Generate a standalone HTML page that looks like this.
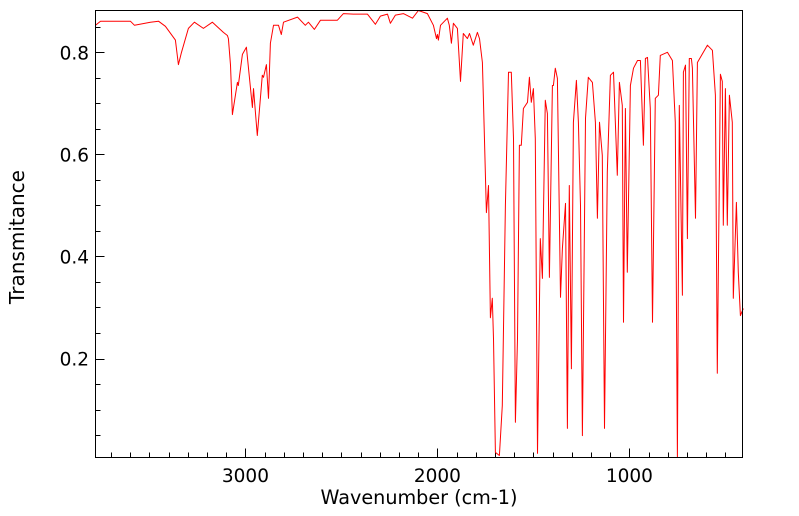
<!DOCTYPE html>
<html><head><meta charset="utf-8"><style>
html,body{margin:0;padding:0;background:#fff;}
svg{display:block;font-family:"DejaVu Sans","Liberation Sans",sans-serif;}
</style></head><body>
<svg id="chart" width="799" height="516" viewBox="0 0 799 516" xmlns="http://www.w3.org/2000/svg">
<rect x="0" y="0" width="799" height="516" fill="#fff"/>
<g id="axes"></g>
<path id="spectrum" fill="none" stroke="#ff0000" stroke-width="1" stroke-linejoin="round"/>
<rect x="95.5" y="10.5" width="647" height="447" fill="none" stroke="#000" stroke-width="1"/>
<text x="419" y="504" font-size="19.2" text-anchor="middle">Wavenumber (cm-1)</text>
<text transform="translate(24,237) rotate(-90)" font-size="20" text-anchor="middle">Transmitance</text>
</svg>
<script>
const wavenumbers=[3781,3755,3599,3578,3495,3453,3417,3365,3349,3333,3297,3266,3219,3172,3115,3094,3089,3078,3068,3042,3037,3016,2995,2964,2958,2938,2912,2906,2891,2880,2870,2854,2828,2813,2802,2729,2688,2672,2641,2609,2521,2490,2438,2365,2323,2297,2260,2245,2219,2177,2130,2099,2052,2021,2005,2000,1995,1984,1948,1938,1927,1917,1896,1880,1865,1844,1833,1813,1792,1781,1766,1761,1745,1734,1724,1714,1708,1698,1677,1662,1646,1630,1615,1604,1594,1583,1573,1563,1552,1531,1521,1511,1500,1490,1479,1464,1453,1438,1427,1417,1401,1396,1386,1375,1359,1349,1333,1323,1313,1302,1292,1276,1266,1255,1245,1229,1214,1193,1177,1167,1156,1141,1130,1115,1099,1083,1063,1052,1037,1031,1021,1011,995,979,958,943,927,917,906,891,880,865,849,839,802,776,761,750,740,724,719,708,698,688,677,672,656,646,594,568,552,542,526,516,511,500,490,479,464,459,443,433,422,407];
const transmittance=[0.853,0.861,0.861,0.853,0.859,0.861,0.851,0.824,0.776,0.8,0.847,0.859,0.847,0.859,0.839,0.833,0.827,0.775,0.678,0.741,0.735,0.796,0.810,0.692,0.729,0.637,0.755,0.751,0.776,0.710,0.818,0.853,0.853,0.835,0.859,0.869,0.853,0.859,0.845,0.863,0.863,0.876,0.875,0.875,0.855,0.871,0.875,0.857,0.873,0.876,0.867,0.882,0.876,0.853,0.827,0.835,0.824,0.853,0.867,0.853,0.818,0.857,0.847,0.743,0.837,0.827,0.837,0.814,0.839,0.827,0.780,0.716,0.486,0.539,0.280,0.318,0.239,0.016,0.010,0.108,0.5,0.761,0.761,0.631,0.075,0.239,0.618,0.618,0.690,0.702,0.751,0.702,0.729,0.631,0.014,0.435,0.357,0.706,0.680,0.359,0.735,0.735,0.769,0.749,0.320,0.416,0.504,0.063,0.539,0.180,0.663,0.745,0.663,0.5,0.049,0.671,0.751,0.741,0.663,0.475,0.663,0.598,0.063,0.565,0.755,0.761,0.559,0.741,0.696,0.271,0.690,0.369,0.735,0.769,0.784,0.784,0.618,0.788,0.790,0.690,0.271,0.710,0.716,0.794,0.8,0.784,0.663,0.006,0.696,0.324,0.761,0.775,0.435,0.788,0.788,0.769,0.475,0.780,0.814,0.804,0.716,0.171,0.757,0.743,0.461,0.729,0.461,0.716,0.663,0.318,0.506,0.369,0.284,0.298];
const xTickLabels=[3000,2000,1000];
const yTickLabels=[0.2,0.4,0.6,0.8];

const X0=95.5,X1=742.5,Y0=457.5,Y1=10.5;
const WMAX=3781,WMIN=411,TMIN=0.006,TMAX=0.882;
function xs(w){return X0+(WMAX-w)/(WMAX-WMIN)*(X1-X0);}
function ys(t){return Y0-(t-TMIN)/(TMAX-TMIN)*(Y0-Y1);}

const NS="http://www.w3.org/2000/svg";
const axes=document.getElementById('axes');
function mk(tag,attrs){const e=document.createElementNS(NS,tag);for(const k in attrs)e.setAttribute(k,attrs[k]);return e;}

for(let w=500;w<=3700;w+=100){
  const major=xTickLabels.includes(w);
  const x=Math.round(xs(w))+0.5;
  const l=mk('line',{x1:x,x2:x,y1:Y0,y2:Y0-(major?9:5),stroke:'#000','stroke-width':1});
  
  
  axes.appendChild(l);
}
xTickLabels.forEach(w=>{
  const t=mk('text',{x:xs(w),y:482,'font-size':18.5,'text-anchor':'middle'});
  
  
  t.textContent=w; axes.appendChild(t);
});
for(let i=1;i<=17;i++){
  const v=i*0.05;
  const major=Math.abs(v*5-Math.round(v*5))<1e-6;
  const y=Math.round(ys(v))+0.5;
  const l=mk('line',{x1:X0,x2:X0+(major?9:5),y1:y,y2:y,stroke:'#000','stroke-width':1});
  
  
  axes.appendChild(l);
}
yTickLabels.forEach(v=>{
  const t=mk('text',{x:89,y:ys(v)+7,'font-size':18.5,'text-anchor':'end'});
  
  
  t.textContent=v.toFixed(1); axes.appendChild(t);
});
let d='';
wavenumbers.forEach((w,i)=>{d+=(i?'L':'M')+xs(w).toFixed(1)+' '+ys(transmittance[i]).toFixed(1);});
document.getElementById('spectrum').setAttribute('d',d);
</script>
</body></html>
